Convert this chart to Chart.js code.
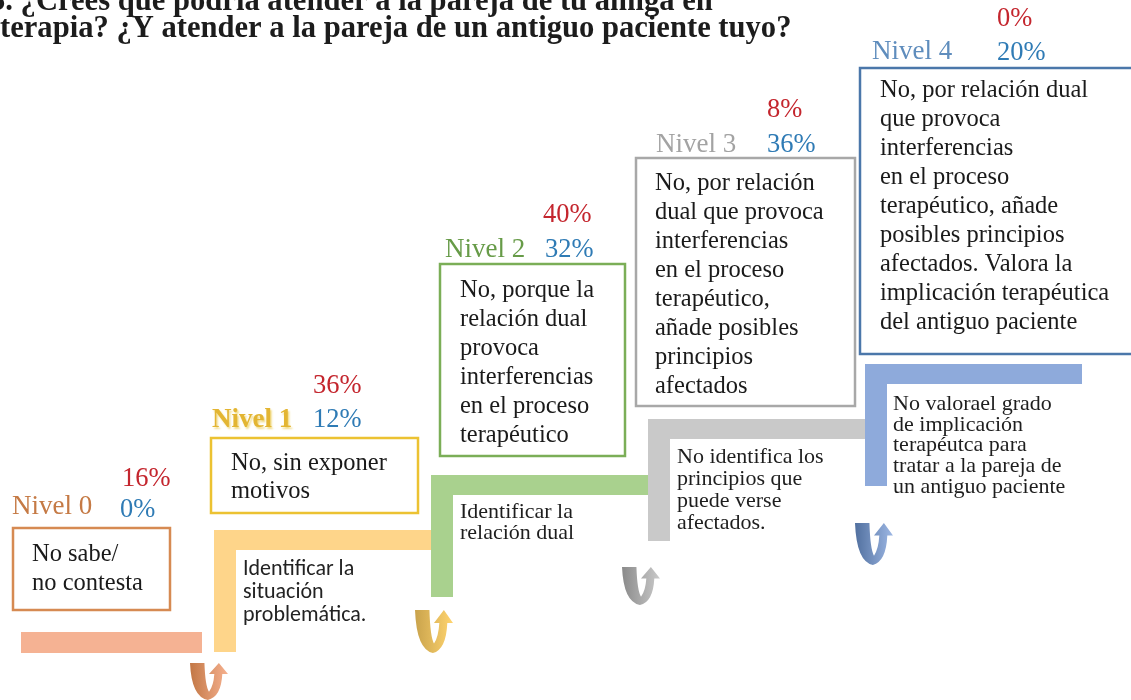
<!DOCTYPE html>
<html>
<head>
<meta charset="utf-8">
<script src="https://cdn.jsdelivr.net/npm/chart.js@4.4.1/dist/chart.umd.min.js"></script>
<style>
  html, body { margin: 0; padding: 0; background: #fff; }
  #wrap { width: 1131px; height: 700px; }
</style>
</head>
<body>
<div id="wrap"><canvas id="steps" width="1131" height="700"></canvas></div>
<script>
// data
const levels = ["Nivel 0", "Nivel 1", "Nivel 2", "Nivel 3", "Nivel 4"];
const pctFriend = [16, 36, 40, 8, 0];    // red
const pctPatient = [0, 12, 32, 36, 20];  // blue
const answers = [
  ["No sabe/", "no contesta"],
  ["No, sin exponer", "motivos"],
  ["No, porque la", "relación dual", "provoca", "interferencias", "en el proceso", "terapéutico"],
  ["No, por relación", "dual que provoca", "interferencias", "en el proceso", "terapéutico,", "añade posibles", "principios", "afectados"],
  ["No, por relación dual", "que provoca", "interferencias", "en el proceso", "terapéutico, añade", "posibles principios", "afectados. Valora la", "implicación terapéutica", "del antiguo paciente"]
];
const stepNotes = [
  [],
  ["Identificar la", "situación", "problemática."],
  ["Identificar la", "relación dual"],
  ["No identifica los", "principios que", "puede verse", "afectados."],
  ["No valorael grado", "de implicación", "terapéutca para", "tratar a la pareja de", "un antiguo paciente"]
];
const titleLines = [
  "5. ¿Crees que podría atender a la pareja de tu amiga en",
  "terapia? ¿Y atender a la pareja de un antiguo paciente tuyo?"
];

// layout (positions in the 1131x700 frame) and styles
const boxes = [
  { x: 13,  y: 528, w: 157, h: 82,  tx: 32,  ty: 561, lh: 29 },
  { x: 211, y: 438, w: 207, h: 75,  tx: 231, ty: 470, lh: 28 },
  { x: 440, y: 264, w: 185, h: 192, tx: 460, ty: 297, lh: 29 },
  { x: 636, y: 158, w: 219, h: 248, tx: 655, ty: 190, lh: 29 },
  { x: 860, y: 68,  w: 300, h: 286, tx: 880, ty: 97,  lh: 29 }
];
const heads = [
  { lx: 12,  ly: 514, px: 122, ry: 486, by: 517, bx: 120 },
  { lx: 212, ly: 427, px: 313, ry: 393, by: 427, bx: 313 },
  { lx: 445, ly: 257, px: 543, ry: 222, by: 257, bx: 545 },
  { lx: 656, ly: 152, px: 767, ry: 117, by: 152, bx: 767 },
  { lx: 872, ly: 59,  px: 997, ry: 26,  by: 60,  bx: 997 }
];
const stairs = [
  { x0: 21,  top: 632, bottom: 653, end: 202,  w: 0 },
  { x0: 214, top: 530, bottom: 652, end: 432,  w: 22 },
  { x0: 431, top: 475, bottom: 597, end: 649,  w: 22 },
  { x0: 648, top: 419, bottom: 541, end: 866,  w: 22 },
  { x0: 865, top: 364, bottom: 486, end: 1082, w: 22 }
];
const notePos = [
  null,
  { x: 243, y: 575, lh: 23 },
  { x: 460, y: 518, lh: 21 },
  { x: 677, y: 463, lh: 22 },
  { x: 893, y: 410, lh: 20.7 }
];
const arrows = [
  { x: 190, y: 663, w: 38, h: 37, c: 0 },
  { x: 415, y: 610, w: 38, h: 43, c: 1 },
  { x: 622, y: 567, w: 38, h: 38, c: 3 },
  { x: 855, y: 523, w: 38, h: 42, c: 4 }
];
const palette = [
  { border: "#d68a52", fill: "#f5b293", label: "#c57a45", dark: "#c27745", light: "#f6b18f" },
  { border: "#ecc232", fill: "#fed58a", label: "#e3b532", dark: "#c9a34c", light: "#ffd46f" },
  { border: "#7bae57", fill: "#a9d18e", label: "#679b48", dark: "#6f9f50", light: "#a9d18e" },
  { border: "#a8a8a8", fill: "#c9c9c9", label: "#a3a3a3", dark: "#8a8a8a", light: "#cacaca" },
  { border: "#4b77aa", fill: "#8eaadb", label: "#5f8dbd", dark: "#51709f", light: "#9db7e4" }
];
const RED = "#c4262e";
const BLUE = "#2f7bb5";
const SERIF = '"Liberation Serif", "Times New Roman", serif';
const SANS = '"Carlito", "Lato", sans-serif';

const stairPlugin = {
  id: "stairPlugin",
  afterDraw(chart) {
    const { ctx, scales: { x, y } } = chart;
    const px = v => x.getPixelForValue(v);
    const py = v => y.getPixelForValue(v);

    const text = (str, X, Y, font, color) => {
      ctx.save();
      ctx.font = font;
      ctx.fillStyle = color;
      ctx.textAlign = "left";
      ctx.textBaseline = "alphabetic";
      ctx.fillText(str, px(X), py(Y));
      ctx.restore();
    };
    const rect = (x0, y0, x1, y1) => [px(x0), py(y0), px(x1) - px(x0), py(y1) - py(y0)];

    // title, sized so the second line ends near x = 792
    ctx.save();
    ctx.font = "bold 28px " + SERIF;
    const tw = ctx.measureText(titleLines[1]).width;
    ctx.restore();
    const tSize = Math.min(31, 28 * (px(792) - px(0)) / tw);
    const tFont = "bold " + tSize.toFixed(1) + "px " + SERIF;
    text(titleLines[0], -10, 10, tFont, "#1c1c1c");
    text(titleLines[1], 0, 37, tFont, "#1c1c1c");

    // stairs
    stairs.forEach((s, i) => {
      ctx.fillStyle = palette[i].fill;
      if (s.w === 0) {
        ctx.fillRect(...rect(s.x0, s.top, s.end, s.bottom));
      } else {
        ctx.fillRect(...rect(s.x0, s.top, s.end, s.top + 20));
        ctx.fillRect(...rect(s.x0, s.top, s.x0 + s.w, s.bottom));
      }
    });

    // turn arrows
    arrows.forEach(a => {
      const X = u => px(a.x + u * a.w);
      const Y = v => py(a.y + v * a.h);
      const g = ctx.createLinearGradient(X(0), 0, X(1), 0);
      g.addColorStop(0, palette[a.c].dark);
      g.addColorStop(1, palette[a.c].light);
      ctx.beginPath();
      ctx.moveTo(X(0), Y(0));
      ctx.lineTo(X(0.38), Y(0));
      ctx.quadraticCurveTo(X(0.40), Y(0.62), X(0.50), Y(0.78));
      ctx.quadraticCurveTo(X(0.62), Y(0.62), X(0.64), Y(0.30));
      ctx.lineTo(X(0.50), Y(0.30));
      ctx.lineTo(X(0.76), Y(0));
      ctx.lineTo(X(1.0), Y(0.30));
      ctx.lineTo(X(0.85), Y(0.30));
      ctx.quadraticCurveTo(X(0.82), Y(0.92), X(0.47), Y(1.0));
      ctx.quadraticCurveTo(X(0.04), Y(0.92), X(0), Y(0));
      ctx.closePath();
      ctx.fillStyle = g;
      ctx.fill();
    });

    // step notes
    stepNotes.forEach((lines, i) => {
      const n = notePos[i];
      if (!n) return;
      lines.forEach((ln, k) => {
        if (i === 1) text(ln, n.x, n.y + k * n.lh, "22px " + SANS, "#222");
        else text(ln, n.x, n.y + k * n.lh, "22px " + SERIF, "#1e1e1e");
      });
    });

    // answer boxes
    boxes.forEach((b, i) => {
      ctx.save();
      ctx.fillStyle = "#fff";
      ctx.fillRect(...rect(b.x, b.y, b.x + b.w, b.y + b.h));
      ctx.lineWidth = 2.5;
      ctx.strokeStyle = palette[i].border;
      ctx.strokeRect(...rect(b.x, b.y, b.x + b.w, b.y + b.h));
      ctx.restore();
      answers[i].forEach((ln, k) => text(ln, b.tx, b.ty + k * b.lh, "24.5px " + SERIF, "#1a1a1a"));
    });

    // level labels and percentages
    levels.forEach((lv, i) => {
      const h = heads[i];
      if (i === 1) {
        ctx.save();
        ctx.shadowColor = "rgba(240,215,120,0.9)";
        ctx.shadowBlur = 2;
        ctx.shadowOffsetX = 1.5;
        ctx.shadowOffsetY = 1.5;
        text(lv, h.lx, h.ly, "bold 27px " + SERIF, palette[i].label);
        ctx.restore();
      } else {
        text(lv, h.lx, h.ly, "27px " + SERIF, palette[i].label);
      }
      text(pctFriend[i] + "%", h.px, h.ry, "26.5px " + SERIF, RED);
      text(pctPatient[i] + "%", h.bx, h.by, "26.5px " + SERIF, BLUE);
    });
  }
};

new Chart(document.getElementById("steps"), {
  type: "scatter",
  data: { datasets: [{ data: [], pointRadius: 0 }] },
  options: {
    responsive: false,
    animation: false,
    devicePixelRatio: 1,
    layout: { padding: 0 },
    plugins: { legend: { display: false }, tooltip: { enabled: false } },
    scales: {
      x: { type: "linear", min: 0, max: 1131, display: false },
      y: { type: "linear", min: 0, max: 700, reverse: true, display: false }
    }
  },
  plugins: [stairPlugin]
});
</script>
</body>
</html>
